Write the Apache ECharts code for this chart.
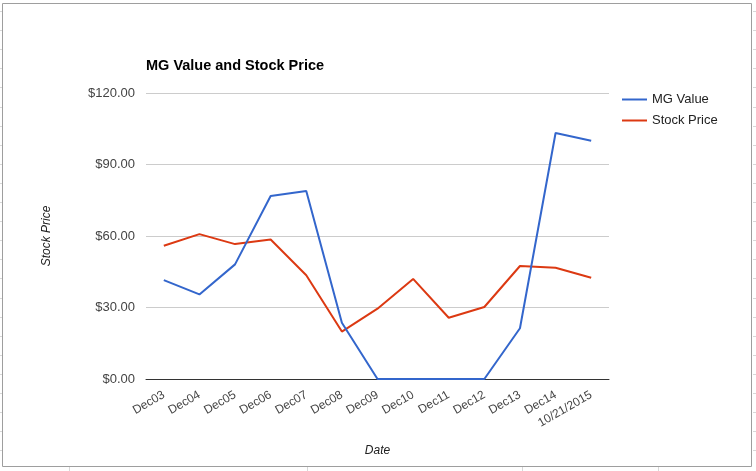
<!DOCTYPE html>
<html>
<head>
<meta charset="utf-8">
<script src="https://cdn.jsdelivr.net/npm/echarts@6/dist/echarts.min.js"></script>
<style>
html,body{margin:0;padding:0;background:#fff;}
#chart{width:756px;height:471px;}
</style>
</head>
<body>
<div id="chart"></div>
<script>
const categories = ['Dec03','Dec04','Dec05','Dec06','Dec07','Dec08','Dec09','Dec10','Dec11','Dec12','Dec13','Dec14','10/21/2015'];
const mgValue = [41.5, 35.5, 48.1, 76.8, 78.9, 23.6, 0, 0, 0, 0, 21.3, 103.2, 100.0];
const stockPrice = [55.9, 60.8, 56.6, 58.5, 43.5, 19.9, 29.5, 42.0, 25.7, 30.2, 47.4, 46.7, 42.5];
const yTicks = [0, 30, 60, 90, 120];

const chart = echarts.init(document.getElementById('chart'), null, {renderer: 'canvas'});

// spreadsheet frame decorations
const deco = [];
deco.push({type:'rect', shape:{x:2.5, y:3.5, width:749, height:463}, style:{fill:null, stroke:'#9e9e9e', lineWidth:1}, silent:true});
for (let y = 11; y < 467; y += 19.1) {
  const yy = Math.round(y) + 0.5;
  deco.push({type:'line', shape:{x1:0, y1:yy, x2:2, y2:yy}, style:{stroke:'#d8d8d8', lineWidth:1}, silent:true});
  deco.push({type:'line', shape:{x1:753, y1:yy, x2:756, y2:yy}, style:{stroke:'#d8d8d8', lineWidth:1}, silent:true});
}
[69, 307, 522, 658].forEach(x => {
  deco.push({type:'line', shape:{x1:x+0.5, y1:467, x2:x+0.5, y2:471}, style:{stroke:'#d8d8d8', lineWidth:1}, silent:true});
});

const FONT = 'Liberation Sans, Arial';

chart.setOption({
  animation: false,
  backgroundColor: '#fff',
  title: {
    text: 'MG Value and Stock Price',
    left: 141, top: 53,
    textStyle: {fontFamily: FONT, fontSize: 14.5, fontWeight: 'bold', color: '#000'}
  },
  legend: {
    orient: 'vertical',
    left: 617, top: 88,
    itemWidth: 25, itemHeight: 2, itemGap: 8,
    icon: 'rect',
    textStyle: {fontFamily: FONT, fontSize: 13, color: '#222'},
    data: ['MG Value', 'Stock Price']
  },
  grid: {left: 146, right: 147, top: 93, bottom: 92, containLabel: false},
  xAxis: {
    type: 'category',
    data: categories,
    boundaryGap: true,
    name: 'Date',
    nameLocation: 'middle',
    nameGap: 66,
    nameTextStyle: {fontFamily: FONT, fontSize: 12, fontStyle: 'italic', color: '#222'},
    axisLine: {lineStyle: {color: '#333', width: 1}},
    axisTick: {show: false},
    axisLabel: {rotate: 30, interval: 0, margin: 15, fontFamily: FONT, fontSize: 12, color: '#444'}
  },
  yAxis: {
    type: 'value',
    min: 0, max: 120, interval: 30,
    name: 'Stock Price',
    nameLocation: 'middle',
    nameGap: 93,
    nameRotate: 90,
    nameTextStyle: {fontFamily: FONT, fontSize: 12, fontStyle: 'italic', color: '#222'},
    axisLine: {show: false},
    axisTick: {show: false},
    axisLabel: {margin: 11, fontFamily: FONT, fontSize: 13, color: '#444',
      formatter: v => yTicks.includes(v) ? '$' + v.toFixed(2) : ''},
    splitLine: {lineStyle: {color: '#cccccc', width: 1}}
  },
  series: [
    {name: 'MG Value', type: 'line', data: mgValue, showSymbol: false, symbol: 'none',
      itemStyle: {color: '#3366CC'}, lineStyle: {color: '#3366CC', width: 2}, z: 3},
    {name: 'Stock Price', type: 'line', data: stockPrice, showSymbol: false, symbol: 'none',
      itemStyle: {color: '#DC3912'}, lineStyle: {color: '#DC3912', width: 2}, z: 2}
  ],
  graphic: deco
});
</script>
</body>
</html>
